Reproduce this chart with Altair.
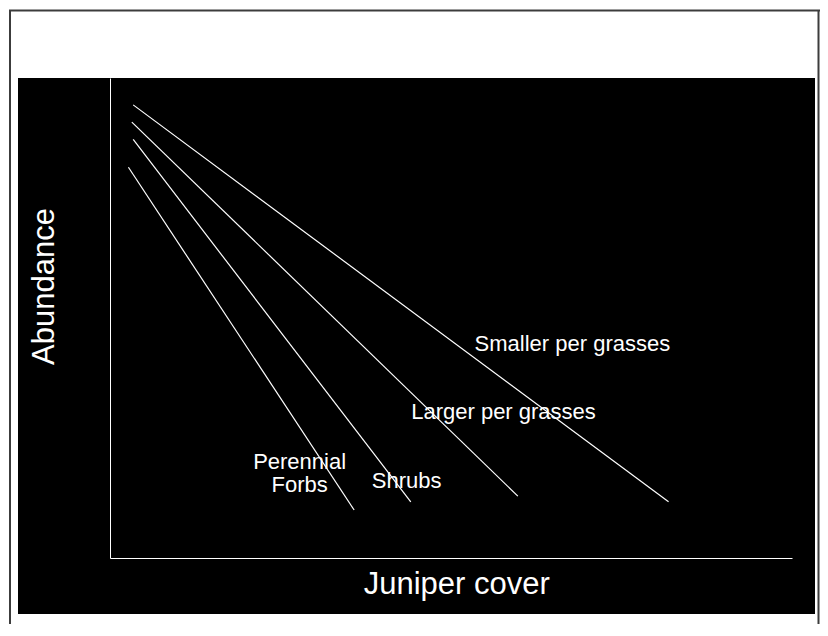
import altair as alt
import pandas as pd

# ---- data (x: juniper cover 0-100, y: abundance 0-100) ----
series = ["Smaller per grasses", "Larger per grasses", "Shrubs", "Perennial Forbs"]
x_start = [3.4, 3.2, 3.4, 2.7]
y_start = [94.4, 90.8, 87.2, 81.4]
x_end = [81.9, 59.8, 44.1, 35.8]
y_end = [11.7, 12.9, 11.7, 10.0]

label_text = ["Smaller per grasses", "Larger per grasses", "Perennial\nForbs", "Shrubs"]
label_x = [67.8, 57.7, 27.8, 43.5]
label_y = [43.2, 29.0, 18.5, 14.5]

rows = []
for s, xs, ys, xe, ye in zip(series, x_start, y_start, x_end, y_end):
    rows.append({"series": s, "cover": xs, "abundance": ys})
    rows.append({"series": s, "cover": xe, "abundance": ye})
lines_df = pd.DataFrame(rows)
labels_df = pd.DataFrame({"label": label_text, "cover": label_x, "abundance": label_y})
one_df = pd.DataFrame({"k": [0]})

FONT = "Liberation Sans, Arial, Helvetica, sans-serif"
xscale = alt.Scale(domain=[0, 100], nice=False, zero=False)
yscale = alt.Scale(domain=[0, 100], nice=False, zero=False)

common_axis = dict(
    ticks=False, labels=False, grid=False, domainColor="white", domainWidth=1,
    zindex=1, titleFont=FONT, titleFontSize=31, titleFontWeight="normal",
    titleColor="white", titleAlign="center", titleBaseline="alphabetic",
)
x_axis = alt.Axis(titleX=346.3, titleY=35.3, **common_axis)
y_axis = alt.Axis(titleAngle=270, titleX=-56.7, titleY=208, **common_axis)

frame_color = "#3c3c3c"
frame_left = alt.Chart(one_df).mark_rule(color=frame_color, strokeWidth=2).encode(
    x=alt.value(-100), y=alt.value(-68), y2=alt.value(560))
frame_top = alt.Chart(one_df).mark_rule(color=frame_color, strokeWidth=2).encode(
    x=alt.value(-101), x2=alt.value(710), y=alt.value(-67.5))
frame_right = alt.Chart(one_df).mark_rule(color=frame_color, strokeWidth=2).encode(
    x=alt.value(708.5), y=alt.value(-68), y2=alt.value(560))

panel = alt.Chart(one_df).mark_rect(color="black").encode(
    x=alt.value(-92), x2=alt.value(705), y=alt.value(0), y2=alt.value(536))

lines = alt.Chart(lines_df).mark_line(color="white", strokeWidth=1.2).encode(
    x=alt.X("cover:Q", scale=xscale, title="Juniper cover", axis=x_axis),
    y=alt.Y("abundance:Q", scale=yscale, title="Abundance", axis=y_axis),
    detail="series:N",
)

labels = alt.Chart(labels_df).mark_text(
    color="white", font=FONT, fontSize=22, align="center", baseline="alphabetic",
    lineBreak="\n", lineHeight=22.5,
).encode(
    x=alt.X("cover:Q", scale=xscale, title="Juniper cover", axis=x_axis),
    y=alt.Y("abundance:Q", scale=yscale, title="Abundance", axis=y_axis),
    text="label:N",
)

chart = alt.layer(frame_left, frame_top, frame_right, panel, lines, labels).properties(
    width=682, height=480,
    padding={"left": 102, "top": 70, "right": 28, "bottom": 66},
    autosize=alt.AutoSizeParams(type="none"),
    background="white",
).configure_view(stroke=None)

chart.save("out.html", embed_options={"renderer": "svg", "actions": False})
